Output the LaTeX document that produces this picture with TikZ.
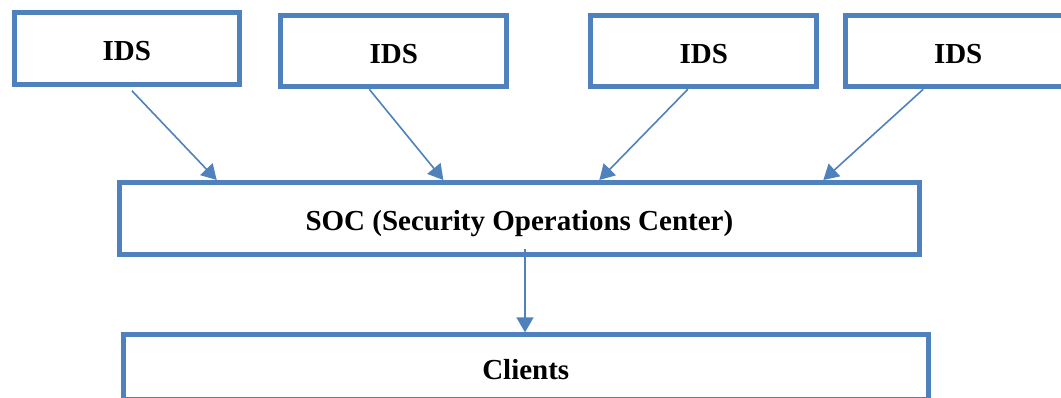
\documentclass[tikz,border=0pt]{standalone}
\usepackage{fontspec}
\setmainfont{Liberation Serif}
\usetikzlibrary{arrows.meta}
\definecolor{boxblue}{HTML}{4F81BD}
\tikzset{
  blockbox/.style={draw=boxblue, line width=5pt, fill=white, rectangle,
    font=\fontsize{29}{32}\selectfont\bfseries, text=black,
    text height=24pt, text depth=0pt},
  idsbox/.style={blockbox, minimum width=226pt, minimum height=71pt},
  flow/.style={draw=boxblue, line width=1.6pt,
    -{Triangle[length=15pt,width=17pt]}}
}
\begin{document}
\begin{tikzpicture}[x=1pt, y=-1pt]
  \useasboundingbox (0,0) rectangle (1061,398);

  % sensors along the top row
  \node[idsbox, minimum width=225.3pt, minimum height=71.7pt] (ids1) at (126.85,48.35) {IDS};
  \node[idsbox] (ids2) at (393.8,51.3) {IDS};
  \node[idsbox] (ids3) at (703.8,51.3) {IDS};
  \node[idsbox] (ids4) at (958.2,51.3) {IDS};

  % central operations center and the clients below it
  \node[blockbox, minimum width=799.7pt, minimum height=71.7pt] (soc) at (519.35,218.35)
    {SOC (Security Operations Center)};
  \node[blockbox, minimum width=805.5pt, minimum height=64.7pt] (clients) at (525.75,367.2)
    {Clients};

  % reports from each IDS to the SOC
  \draw[flow] ([xshift=5pt,yshift=-4pt]ids1.south) -- ([xshift=-302.65pt]soc.north);
  \draw[flow] ([xshift=-24.5pt]ids2.south) -- ([xshift=-76pt]soc.north);
  \draw[flow] ([xshift=-16pt]ids3.south) -- ([xshift=80pt]soc.north);
  \draw[flow] ([xshift=-35pt]ids4.south) -- ([xshift=304pt]soc.north);

  % SOC serves the clients
  \draw[flow] ([xshift=5.65pt,yshift=7.4pt]soc.south) -- ([xshift=-0.75pt]clients.north);
\end{tikzpicture}
\end{document}
